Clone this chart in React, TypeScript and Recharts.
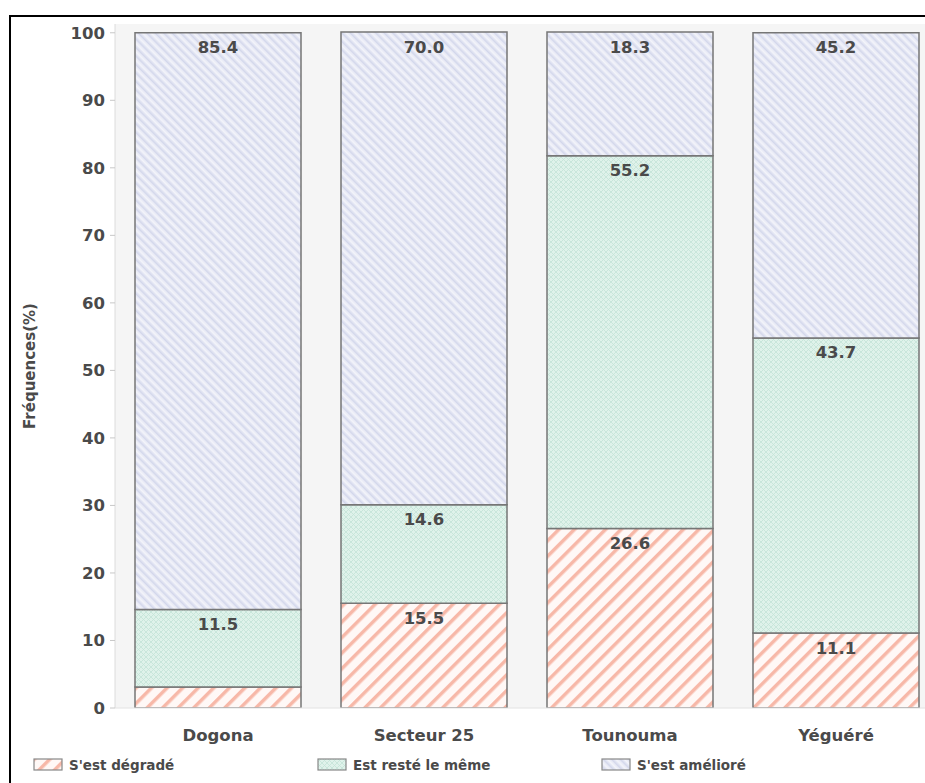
import { Bar, BarChart, CartesianGrid, LabelList, XAxis, YAxis } from "recharts";

const sites = ["Dogona", "Secteur 25", "Tounouma", "Yéguéré"];
const degrade = [3.1, 15.5, 26.6, 11.1];
const memeEtat = [11.5, 14.6, 55.2, 43.7];
const ameliore = [85.4, 70.0, 18.3, 45.2];
const yTicks = [0, 10, 20, 30, 40, 50, 60, 70, 80, 90, 100];

const series = [
    { key: "degrade", nom: "S'est dégradé", motif: "url(#motifDegrade)" },
    { key: "meme", nom: "Est resté le même", motif: "url(#motifMeme)" },
    { key: "ameliore", nom: "S'est amélioré", motif: "url(#motifAmeliore)" },
];

const donnees = sites.map((site, i) => ({
    site,
    degrade: degrade[i],
    meme: memeEtat[i],
    ameliore: ameliore[i],
}));

const POLICE = "'DejaVu Sans', sans-serif";
const TEXTE = "#4a4a4a";

function EtiquetteValeur(props: any) {
    const { x, y, width, value } = props;
    if (value < 5) return null;
    return (
        <text
            x={x + width / 2}
            y={y + 15}
            textAnchor="middle"
            dominantBaseline="central"
            fontSize={16.5}
            fontWeight="bold"
            fontFamily={POLICE}
            fill={TEXTE}
        >
            {Number(value).toFixed(1)}
        </text>
    );
}

function Motifs() {
    return (
        <svg width={0} height={0} style={{ position: "absolute" }}>
            <defs>
                <pattern
                    id="motifDegrade"
                    patternUnits="userSpaceOnUse"
                    width={11}
                    height={11}
                    patternTransform="rotate(45)"
                >
                    <rect width={11} height={11} fill="#fff8f6" />
                    <rect x={0} y={0} width={3.5} height={11} fill="#f7b8a8" />
                </pattern>
                <pattern
                    id="motifMeme"
                    patternUnits="userSpaceOnUse"
                    width={5}
                    height={5}
                >
                    <rect width={5} height={5} fill="#dff2ea" />
                    <path d="M0,0 L5,5 M5,0 L0,5" stroke="#c4e3d7" strokeWidth={0.8} />
                </pattern>
                <pattern
                    id="motifAmeliore"
                    patternUnits="userSpaceOnUse"
                    width={6}
                    height={6}
                    patternTransform="rotate(-45)"
                >
                    <rect width={6} height={6} fill="#e7e9f5" />
                    <rect x={0} y={0} width={1.5} height={6} fill="#d3d7eb" />
                    <rect x={3} y={0} width={1.5} height={6} fill="#f3f4fa" />
                </pattern>
            </defs>
        </svg>
    );
}

export default function App() {
    return (
        <div
            style={{
                position: "fixed",
                left: 0,
                top: 0,
                width: 925,
                height: 783,
                overflow: "hidden",
                background: "#fff",
            }}
        >
            <Motifs />
            <div
                style={{
                    position: "absolute",
                    left: 9,
                    top: 15,
                    width: 960,
                    height: 800,
                    border: "2px solid #000",
                    background: "#fff",
                }}
            >
                <BarChart
                    width={940}
                    height={766}
                    data={donnees}
                    margin={{ top: 7, right: 12, left: 10, bottom: 35 }}
                    barCategoryGap={20}
                >
                    <CartesianGrid
                        horizontal={false}
                        vertical={false}
                        fill="#f5f5f5"
                    />
                    <XAxis
                        dataKey="site"
                        height={40}
                        tickLine={false}
                        axisLine={{ stroke: "#e2e2e2" }}
                        tick={{
                            fontSize: 16.5,
                            fontWeight: "bold",
                            fontFamily: POLICE,
                            fill: TEXTE,
                        }}
                        tickMargin={15}
                    />
                    <YAxis
                        width={94}
                        domain={[0, 101.3]}
                        ticks={yTicks}
                        allowDataOverflow
                        tickSize={5}
                        tickMargin={5}
                        tickLine={{ stroke: "#c8c8c8" }}
                        axisLine={{ stroke: "#dcdcdc" }}
                        tick={{
                            fontSize: 16.5,
                            fontWeight: "bold",
                            fontFamily: POLICE,
                            fill: TEXTE,
                        }}
                        label={{
                            content: (p: any) => {
                                const vb = p.viewBox;
                                const cx = 19;
                                const cy = vb.y + vb.height / 2;
                                return (
                                    <text
                                        x={cx}
                                        y={cy}
                                        transform={`rotate(-90 ${cx} ${cy})`}
                                        textAnchor="middle"
                                        dominantBaseline="central"
                                        fontSize={15}
                                        fontWeight="bold"
                                        fontFamily={POLICE}
                                        fill={TEXTE}
                                    >
                                        Fréquences(%)
                                    </text>
                                );
                            },
                        }}
                    />
                    {series.map((s) => (
                        <Bar
                            key={s.key}
                            dataKey={s.key}
                            name={s.nom}
                            stackId="a"
                            fill={s.motif}
                            stroke="#767676"
                            strokeWidth={1.5}
                            isAnimationActive={false}
                        >
                            <LabelList dataKey={s.key} content={EtiquetteValeur} />
                        </Bar>
                    ))}
                </BarChart>
                <div
                    style={{
                        position: "absolute",
                        left: 22,
                        top: 740,
                        display: "flex",
                        fontFamily: POLICE,
                        fontSize: 13.5,
                        fontWeight: "bold",
                        color: TEXTE,
                    }}
                >
                    {series.map((s) => (
                        <div
                            key={s.key}
                            style={{ display: "flex", alignItems: "center", width: 284 }}
                        >
                            <svg width={30} height={14} style={{ marginRight: 6 }}>
                                <rect
                                    x={1}
                                    y={1}
                                    width={28}
                                    height={11}
                                    fill={s.motif}
                                    stroke="#888"
                                    strokeWidth={1.2}
                                />
                            </svg>
                            <span>{s.nom}</span>
                        </div>
                    ))}
                </div>
            </div>
        </div>
    );
}
